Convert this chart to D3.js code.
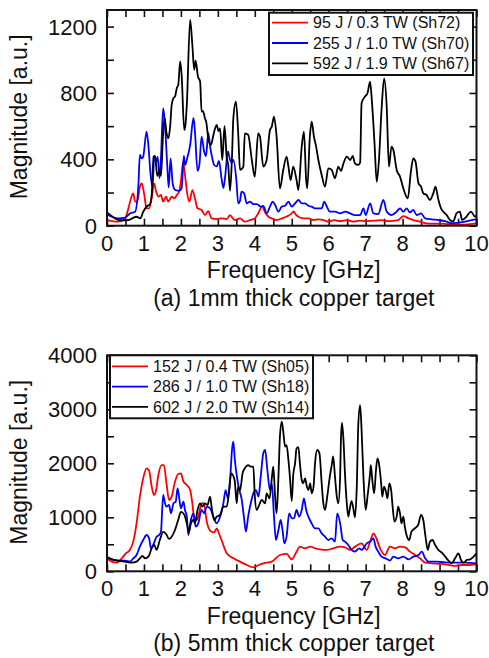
<!DOCTYPE html>
<html>
<head>
<meta charset="utf-8">
<script src="https://cdn.jsdelivr.net/npm/d3@7"></script>
<style>
  html, body { margin: 0; padding: 0; background: #fff; }
  svg { display: block; }
  text { font-family: "Liberation Sans", Arial, sans-serif; fill: #111; }
</style>
</head>
<body>
<script>
// ---- Data: frequency [GHz] / magnitude [a.u.] pairs for each shot ----

// (a) 1 mm thick copper target
const sh72 = [[0,34],[0.13,28],[0.31,24],[0.49,44],[0.58,105],[0.65,165],[0.71,195],[0.76,145],[0.82,145],[0.89,235],[0.94,255],[1.01,185],[1.07,105],[1.14,105],[1.21,165],[1.27,255],[1.33,205],[1.39,175],[1.46,185],[1.52,145],[1.6,175],[1.66,145],[1.75,175],[1.82,165],[1.89,185],[1.95,205],[2.0,265],[2.06,386],[2.11,306],[2.17,195],[2.23,145],[2.31,215],[2.38,165],[2.45,105],[2.56,95],[2.65,64],[2.74,88],[2.83,44],[2.97,40],[3.1,44],[3.24,40],[3.33,64],[3.42,40],[3.46,34],[3.6,44],[3.73,24],[3.87,34],[4.0,44],[4.09,74],[4.2,115],[4.28,80],[4.37,54],[4.46,44],[4.59,34],[4.73,44],[4.85,54],[5.0,74],[5.05,86],[5.1,70],[5.18,54],[5.31,44],[5.45,44],[5.59,34],[5.72,38],[5.86,34],[5.99,24],[6.15,34],[6.31,28],[6.5,34],[6.67,24],[6.83,30],[7.0,28],[7.25,30],[7.43,34],[7.6,28],[7.88,34],[8.02,58],[8.16,44],[8.29,34],[8.47,24],[8.65,14],[8.88,12],[9.1,12],[9.33,6],[9.6,6],[9.82,10],[10,14]];

const sh70 = [[0,68],[0.13,54],[0.31,44],[0.49,48],[0.62,74],[0.76,84],[0.85,245],[0.89,426],[0.94,406],[0.98,416],[1.07,567],[1.12,486],[1.18,306],[1.23,235],[1.28,416],[1.33,386],[1.37,416],[1.42,285],[1.46,406],[1.52,708],[1.57,607],[1.63,366],[1.67,230],[1.72,405],[1.78,250],[1.85,215],[1.95,210],[2.02,225],[2.08,420],[2.11,366],[2.17,406],[2.25,486],[2.34,650],[2.38,567],[2.45,330],[2.5,366],[2.56,537],[2.63,446],[2.68,420],[2.74,560],[2.79,478],[2.85,406],[2.9,366],[2.97,357],[3.03,390],[3.1,285],[3.15,227],[3.2,300],[3.27,448],[3.33,396],[3.38,380],[3.42,397],[3.5,277],[3.55,135],[3.6,150],[3.64,205],[3.71,195],[3.78,135],[3.87,145],[3.96,130],[4.06,130],[4.16,115],[4.23,120],[4.32,74],[4.41,115],[4.48,145],[4.55,125],[4.64,85],[4.73,115],[4.82,120],[4.91,145],[5.0,115],[5.09,135],[5.18,155],[5.27,135],[5.36,135],[5.45,120],[5.54,115],[5.63,105],[5.72,105],[5.81,105],[5.88,145],[5.94,120],[6.03,85],[6.17,85],[6.31,74],[6.45,85],[6.58,74],[6.71,64],[6.85,64],[6.94,105],[7.0,64],[7.12,135],[7.21,74],[7.34,70],[7.48,155],[7.57,85],[7.7,64],[7.84,85],[7.93,105],[8.02,85],[8.11,105],[8.2,80],[8.29,95],[8.38,64],[8.5,74],[8.61,44],[8.79,38],[8.97,34],[9.15,28],[9.33,14],[9.51,18],[9.69,24],[9.87,34],[10,38]];

const sh67 = [[0,80],[0.18,50],[0.3,35],[0.45,32],[0.6,35],[0.68,44],[0.8,54],[0.9,44],[0.98,84],[1.07,115],[1.16,130],[1.21,185],[1.26,416],[1.3,420],[1.36,300],[1.42,330],[1.46,300],[1.52,560],[1.56,650],[1.61,560],[1.66,527],[1.71,600],[1.75,728],[1.8,770],[1.84,778],[1.89,830],[1.93,850],[1.98,990],[2.02,909],[2.09,577],[2.12,600],[2.16,728],[2.25,1241],[2.31,1089],[2.36,939],[2.4,995],[2.46,900],[2.52,869],[2.56,688],[2.6,690],[2.65,648],[2.69,620],[2.74,527],[2.81,487],[2.88,547],[2.93,590],[2.97,607],[3.02,570],[3.06,587],[3.12,396],[3.18,600],[3.24,410],[3.28,366],[3.33,210],[3.38,400],[3.42,650],[3.49,748],[3.55,560],[3.6,336],[3.69,356],[3.73,557],[3.82,548],[3.92,396],[4.0,295],[4.09,557],[4.14,537],[4.23,356],[4.32,396],[4.41,577],[4.46,597],[4.52,657],[4.59,537],[4.68,225],[4.77,336],[4.86,416],[4.91,356],[4.97,275],[5.04,356],[5.13,275],[5.18,215],[5.27,477],[5.33,567],[5.39,275],[5.42,225],[5.49,537],[5.54,627],[5.6,537],[5.66,477],[5.72,396],[5.81,306],[5.9,235],[5.99,346],[6.08,336],[6.17,286],[6.26,356],[6.33,330],[6.4,376],[6.49,416],[6.58,396],[6.65,420],[6.71,376],[6.8,366],[6.85,380],[6.89,738],[6.98,778],[7.05,798],[7.12,868],[7.16,778],[7.24,497],[7.3,265],[7.36,396],[7.43,697],[7.5,888],[7.57,717],[7.63,356],[7.7,477],[7.75,457],[7.84,336],[7.93,296],[8.02,225],[8.14,165],[8.23,336],[8.29,406],[8.35,386],[8.43,255],[8.5,235],[8.56,195],[8.65,185],[8.74,155],[8.83,195],[8.89,235],[8.97,155],[9.04,105],[9.1,85],[9.19,65],[9.28,35],[9.37,25],[9.46,75],[9.55,85],[9.61,35],[9.73,55],[9.85,85],[9.96,55],[10,60]];

// (b) 5 mm thick copper target
const sh05 = [[0,240],[0.13,179],[0.26,160],[0.4,240],[0.51,333],[0.62,395],[0.71,549],[0.8,888],[0.89,1382],[0.98,1721],[1.07,1907],[1.14,1863],[1.21,1567],[1.27,1413],[1.33,1505],[1.39,1783],[1.48,1968],[1.54,1968],[1.61,1629],[1.68,1320],[1.75,1382],[1.84,1660],[1.93,1802],[2.0,1814],[2.07,1660],[2.16,1598],[2.25,1505],[2.31,1259],[2.36,981],[2.43,950],[2.5,1100],[2.56,1259],[2.62,1260],[2.7,919],[2.78,760],[2.83,734],[2.9,720],[2.97,796],[3.03,700],[3.1,580],[3.24,333],[3.42,240],[3.6,179],[3.78,117],[3.96,74],[4.1,117],[4.23,148],[4.46,179],[4.68,302],[4.86,321],[5.0,222],[5.13,364],[5.22,457],[5.36,426],[5.5,457],[5.63,426],[5.76,407],[5.94,395],[6.12,426],[6.31,457],[6.44,444],[6.58,395],[6.71,457],[6.83,506],[6.89,518],[7.03,395],[7.12,549],[7.21,703],[7.27,641],[7.39,426],[7.52,302],[7.66,457],[7.79,426],[7.93,457],[8.07,444],[8.2,364],[8.34,302],[8.47,240],[8.61,160],[8.79,148],[9.02,136],[9.24,117],[9.42,99],[9.6,117],[9.78,117],[10,130]];

const sh18 = [[0,271],[0.13,222],[0.31,197],[0.49,197],[0.62,179],[0.71,240],[0.8,302],[0.89,457],[0.98,580],[1.07,672],[1.14,611],[1.19,426],[1.25,487],[1.34,641],[1.41,672],[1.46,734],[1.52,1413],[1.57,1259],[1.61,1197],[1.68,1228],[1.73,1074],[1.8,1259],[1.86,1290],[1.91,1536],[1.95,1382],[2.0,1166],[2.07,1290],[2.11,1135],[2.16,1012],[2.2,672],[2.27,950],[2.34,1074],[2.4,827],[2.47,888],[2.56,1135],[2.63,1074],[2.7,1197],[2.79,1166],[2.88,1012],[2.97,888],[3.06,1012],[3.15,1259],[3.21,1505],[3.27,1351],[3.33,1690],[3.39,2300],[3.42,2400],[3.46,2061],[3.53,1691],[3.58,1505],[3.64,1351],[3.71,981],[3.76,734],[3.82,1012],[3.89,1259],[3.96,1444],[4.03,1505],[4.1,1382],[4.16,1752],[4.23,2184],[4.28,2246],[4.34,1876],[4.41,1505],[4.46,1629],[4.52,1012],[4.57,580],[4.64,765],[4.7,950],[4.75,765],[4.8,518],[4.86,641],[4.93,1074],[5.0,981],[5.06,981],[5.13,1135],[5.2,1012],[5.27,1135],[5.33,1351],[5.39,1135],[5.45,1012],[5.54,888],[5.63,796],[5.72,796],[5.81,703],[5.9,641],[5.99,580],[6.08,611],[6.17,549],[6.23,1074],[6.31,888],[6.38,580],[6.44,549],[6.53,487],[6.62,395],[6.71,364],[6.83,426],[6.89,395],[7.03,518],[7.12,549],[7.21,611],[7.27,457],[7.34,364],[7.43,271],[7.54,240],[7.66,197],[7.75,271],[7.88,240],[8.02,271],[8.16,222],[8.29,271],[8.43,302],[8.52,364],[8.61,240],[8.7,179],[8.92,179],[9.15,166],[9.42,160],[9.69,160],[10,148]];

const sh14 = [[0,259],[0.13,222],[0.31,197],[0.49,179],[0.67,160],[0.8,179],[0.89,240],[0.96,284],[1.03,240],[1.12,271],[1.21,426],[1.28,487],[1.34,395],[1.43,580],[1.52,730],[1.6,690],[1.68,600],[1.75,641],[1.84,765],[1.93,960],[2.0,1100],[2.09,1050],[2.16,888],[2.22,734],[2.27,888],[2.34,950],[2.38,888],[2.45,1135],[2.52,1259],[2.58,1197],[2.65,1259],[2.72,1228],[2.79,1382],[2.83,1197],[2.9,950],[2.97,1012],[3.06,1043],[3.15,1197],[3.24,1197],[3.3,1444],[3.36,1814],[3.42,1760],[3.46,1660],[3.51,1259],[3.55,1567],[3.6,1500],[3.67,1814],[3.73,1907],[3.82,1968],[3.89,1937],[3.96,1937],[4.0,1400],[4.05,1135],[4.1,1197],[4.19,1320],[4.28,1259],[4.32,1444],[4.4,1351],[4.46,1721],[4.5,1937],[4.55,1382],[4.59,1074],[4.64,1752],[4.68,2493],[4.73,2770],[4.77,2585],[4.82,2308],[4.86,2338],[4.91,2061],[4.95,1752],[5.0,1300],[5.04,1783],[5.09,1999],[5.13,2277],[5.18,2300],[5.22,1999],[5.27,1690],[5.31,1629],[5.36,1721],[5.41,1567],[5.45,1505],[5.5,1629],[5.54,1444],[5.59,1567],[5.63,1999],[5.69,2246],[5.75,2184],[5.81,1629],[5.85,1290],[5.9,1135],[5.96,1382],[6.03,1752],[6.09,1999],[6.12,2130],[6.17,1752],[6.22,1382],[6.26,1259],[6.31,1752],[6.33,2431],[6.36,2750],[6.4,2431],[6.44,1814],[6.49,1259],[6.53,1012],[6.58,1197],[6.62,1300],[6.67,1150],[6.71,1000],[6.76,1567],[6.8,2700],[6.85,3079],[6.89,2616],[6.94,1752],[7.0,1135],[7.05,1382],[7.12,1814],[7.14,1968],[7.18,1690],[7.23,1444],[7.28,1876],[7.32,2092],[7.36,1999],[7.42,1629],[7.45,1382],[7.5,1567],[7.54,1505],[7.59,1351],[7.64,1629],[7.69,1505],[7.73,1197],[7.78,919],[7.84,1012],[7.88,1197],[7.93,1074],[7.97,888],[8.02,1012],[8.06,827],[8.12,641],[8.18,580],[8.24,734],[8.33,796],[8.42,857],[8.5,1043],[8.56,950],[8.62,641],[8.68,395],[8.74,549],[8.81,580],[8.88,487],[8.97,395],[9.08,333],[9.19,240],[9.33,148],[9.42,240],[9.51,333],[9.58,210],[9.65,160],[9.74,210],[9.83,222],[9.92,271],[10,333]];

// Axis tick values and labels
const xLabels = d3.range(0, 11, 1);
const xMinor = d3.range(0, 10.01, 0.5);
const yLabelsA = [0, 400, 800, 1200];
const yMinorA = d3.range(0, 1301, 200);
const yLabelsB = [0, 1000, 2000, 3000, 4000];
const yMinorB = d3.range(0, 4001, 500);

const legendA = ["95 J / 0.3 TW (Sh72)", "255 J / 1.0 TW (Sh70)", "592 J / 1.9 TW (Sh67)"];
const legendB = ["152 J / 0.4 TW (Sh05)", "286 J / 1.0 TW (Sh18)", "602 J / 2.0 TW (Sh14)"];
const colors = ["#ff0000", "#0000ff", "#000000"];

const W = 489, H = 658;
const svg = d3.select("body").append("svg").attr("width", W).attr("height", H);

function panel(opt) {
  const x = d3.scaleLinear().domain([0, 10]).range([107, 476.5]);
  const y = d3.scaleLinear().domain(opt.yDomain).range([opt.bottom, opt.top]);
  const g = svg.append("g");
  const clipId = "clip" + opt.id;
  g.append("clipPath").attr("id", clipId).append("rect")
    .attr("x", x(0)).attr("y", opt.top).attr("width", x(10) - x(0)).attr("height", opt.bottom - opt.top);

  // inward ticks on all four sides
  const tk = 7;
  const tickStyle = sel => {
    sel.select(".domain").remove();
    sel.selectAll(".tick line").attr("stroke", "#111").attr("stroke-width", 1.6);
  };
  g.append("g").attr("transform", `translate(0,${opt.bottom})`)
    .call(d3.axisBottom(x).tickValues(xMinor).tickSizeInner(-tk).tickSizeOuter(0).tickFormat(""))
    .call(tickStyle);
  g.append("g").attr("transform", `translate(0,${opt.top})`)
    .call(d3.axisTop(x).tickValues(xMinor).tickSizeInner(-tk).tickSizeOuter(0).tickFormat(""))
    .call(tickStyle);
  g.append("g").attr("transform", `translate(${x(0)},0)`)
    .call(d3.axisLeft(y).tickValues(opt.yMinor).tickSizeInner(-tk).tickSizeOuter(0).tickFormat(""))
    .call(tickStyle);
  g.append("g").attr("transform", `translate(${x(10)},0)`)
    .call(d3.axisRight(y).tickValues(opt.yMinor).tickSizeInner(-tk).tickSizeOuter(0).tickFormat(""))
    .call(tickStyle);

  // curves
  const line = d3.line().x(d => x(d[0])).y(d => y(d[1])).curve(d3.curveMonotoneX);
  const cg = g.append("g").attr("clip-path", `url(#${clipId})`);
  opt.series.forEach((s, i) => {
    cg.append("path").datum(s).attr("d", line)
      .attr("fill", "none").attr("stroke", colors[i])
      .attr("stroke-width", 1.8).attr("stroke-linejoin", "round");
  });

  // frame
  g.append("rect").attr("x", x(0)).attr("y", opt.top)
    .attr("width", x(10) - x(0)).attr("height", opt.bottom - opt.top)
    .attr("fill", "none").attr("stroke", "#111").attr("stroke-width", 2);

  // tick labels
  g.selectAll(".xl").data(xLabels).join("text")
    .attr("x", d => x(d)).attr("y", opt.bottom + 25)
    .attr("text-anchor", "middle").attr("font-size", 22).text(d => d);
  g.selectAll(".yl").data(opt.yLabels).join("text")
    .attr("x", 97).attr("y", d => y(d)).attr("dy", "0.36em")
    .attr("text-anchor", "end").attr("font-size", 22).text(d => d);

  // axis titles and caption
  g.append("text").attr("x", (x(0) + x(10)) / 2 + 2).attr("y", opt.bottom + 52.5)
    .attr("text-anchor", "middle").attr("font-size", 23).text("Frequency [GHz]");
  g.append("text").attr("x", (x(0) + x(10)) / 2 + 2).attr("y", opt.bottom + 80)
    .attr("text-anchor", "middle").attr("font-size", 23).text(opt.caption);
  g.append("text")
    .attr("transform", `translate(27,${(opt.top + opt.bottom) / 2 - 1}) rotate(-90)`)
    .attr("text-anchor", "middle").attr("font-size", 23).text("Magnitude [a.u.]");

  // legend
  const L = opt.legend;
  const lg = g.append("g").attr("transform", `translate(${L.x},${L.y})`);
  lg.append("rect").attr("width", L.w).attr("height", L.h)
    .attr("fill", "#fff").attr("stroke", "#111").attr("stroke-width", 2);
  opt.labels.forEach((t, i) => {
    const ry = L.row0 + i * L.step;
    lg.append("line").attr("x1", L.l0).attr("x2", L.l1).attr("y1", ry).attr("y2", ry)
      .attr("stroke", colors[i]).attr("stroke-width", 1.8);
    lg.append("text").attr("x", L.tx).attr("y", ry).attr("dy", "0.36em")
      .attr("font-size", 16).text(t);
  });
}

panel({
  id: "A", top: 10, bottom: 225.7, yDomain: [0, 1300],
  yLabels: yLabelsA, yMinor: yMinorA,
  series: [sh72, sh70, sh67], labels: legendA,
  caption: "(a) 1mm thick copper target",
  legend: { x: 269, y: 12.7, w: 204, h: 62.3, row0: 10, step: 20.3, l0: 3, l1: 39, tx: 44 }
});

panel({
  id: "B", top: 355.3, bottom: 571.3, yDomain: [0, 4000],
  yLabels: yLabelsB, yMinor: yMinorB,
  series: [sh05, sh18, sh14], labels: legendB,
  caption: "(b) 5mm thick copper target",
  legend: { x: 110, y: 355.3, w: 203, h: 63, row0: 11, step: 20.3, l0: 2, l1: 38, tx: 43 }
});
</script>
</body>
</html>
